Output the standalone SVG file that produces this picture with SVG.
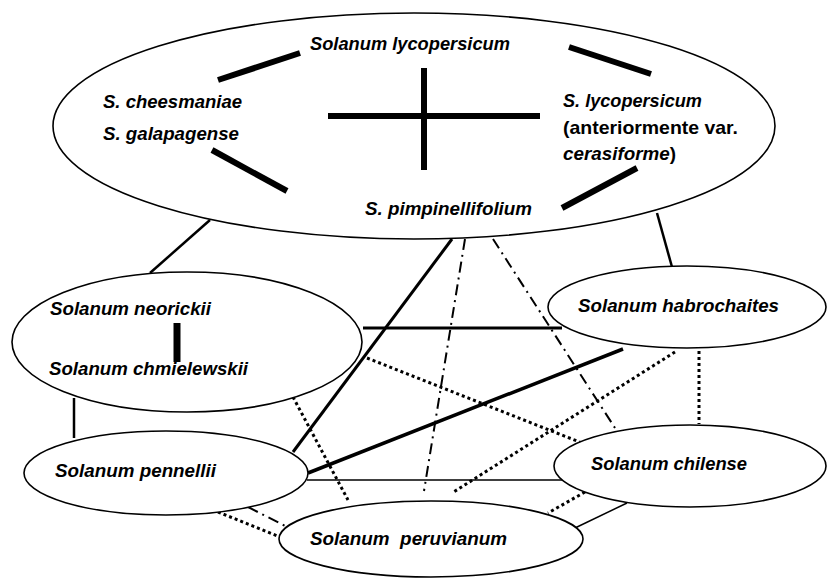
<svg xmlns="http://www.w3.org/2000/svg" width="827" height="578" viewBox="0 0 827 578">
<style>
.n{fill:#fff;stroke:#000;stroke-width:1.6}
.t{font-family:"Liberation Sans",Arial,sans-serif;font-weight:bold;font-style:italic;font-size:18.5px;fill:#000}
.up{font-style:normal}
.bar{stroke:#000;stroke-width:6;fill:none}
.s{stroke:#000;fill:none}
.dot{stroke:#000;fill:none;stroke-width:3;stroke-dasharray:3,3}
.dd{stroke:#000;fill:none;stroke-width:2;stroke-dasharray:11,5,2,5}
</style>
<rect width="827" height="578" fill="#fff"/>
<g id="connectors">
<line class="s" x1="210" y1="220" x2="150" y2="273" stroke-width="2.5"/>
<line class="s" x1="657" y1="213" x2="672" y2="267" stroke-width="2.5"/>
<line class="s" x1="74" y1="398" x2="74" y2="438" stroke-width="2.5"/>
<line class="s" x1="452" y1="239" x2="293" y2="452" stroke-width="3"/>
<line class="s" x1="363" y1="328" x2="562" y2="328" stroke-width="3"/>
<line class="s" x1="308" y1="473" x2="623" y2="349" stroke-width="3.5"/>
<line class="s" x1="307" y1="480" x2="562" y2="480" stroke-width="1.5"/>
<line class="s" x1="575" y1="528" x2="627" y2="503" stroke-width="1.5"/>
<line class="dd" x1="465" y1="239" x2="424" y2="491"/>
<line class="dd" x1="493" y1="239" x2="615" y2="428"/>
<line class="dd" x1="248" y1="507" x2="293" y2="530" stroke-width="3"/>
<line class="dot" x1="367" y1="358" x2="582" y2="443"/>
<line class="dot" x1="293" y1="397" x2="348" y2="500"/>
<line class="dot" x1="675" y1="352" x2="452" y2="493"/>
<line class="dot" x1="699" y1="351" x2="699" y2="424"/>
<line class="dot" x1="585" y1="492" x2="548" y2="513"/>
<line class="dot" x1="218" y1="512" x2="280" y2="537"/>
</g>
<g id="top">
<ellipse class="n" cx="414" cy="126" rx="361" ry="113"/>
<line class="bar" x1="218" y1="80" x2="300" y2="53"/>
<line class="bar" x1="212" y1="150" x2="287" y2="191"/>
<line class="bar" x1="569" y1="47" x2="651" y2="74"/>
<line class="bar" x1="562" y1="208" x2="637" y2="168"/>
<line class="bar" x1="328" y1="116" x2="540" y2="116"/>
<line class="bar" x1="424" y1="68" x2="424" y2="170"/>
<text class="t" x="310" y="50" textLength="200" lengthAdjust="spacingAndGlyphs">Solanum lycopersicum</text>
<text class="t" x="103" y="108" textLength="139" lengthAdjust="spacingAndGlyphs">S. cheesmaniae</text>
<text class="t" x="103" y="140" textLength="136" lengthAdjust="spacingAndGlyphs">S. galapagense</text>
<text class="t" x="563" y="107" textLength="139" lengthAdjust="spacingAndGlyphs">S. lycopersicum</text>
<text class="t up" x="563" y="134" textLength="175" lengthAdjust="spacingAndGlyphs">(anteriormente var.</text>
<text class="t" x="563" y="160" textLength="113" lengthAdjust="spacingAndGlyphs">cerasiforme<tspan class="up">)</tspan></text>
<text class="t" x="365" y="215" textLength="167" lengthAdjust="spacingAndGlyphs">S. pimpinellifolium</text>
</g>
<g id="neorickii">
<ellipse class="n" cx="187" cy="342" rx="175" ry="70"/>
<line class="s" x1="177" y1="323" x2="177" y2="362" stroke-width="7"/>
<text class="t" x="50" y="315" textLength="161" lengthAdjust="spacingAndGlyphs">Solanum neorickii</text>
<text class="t" x="49" y="375" textLength="199" lengthAdjust="spacingAndGlyphs">Solanum chmielewskii</text>
</g>
<g id="habrochaites">
<ellipse class="n" cx="687" cy="307" rx="139" ry="41"/>
<text class="t" x="578" y="312" textLength="201" lengthAdjust="spacingAndGlyphs">Solanum habrochaites</text>
</g>
<g id="pennellii">
<ellipse class="n" cx="166" cy="473" rx="142" ry="42"/>
<text class="t" x="55" y="477" textLength="161" lengthAdjust="spacingAndGlyphs">Solanum pennellii</text>
</g>
<g id="chilense">
<ellipse class="n" cx="690" cy="466" rx="136" ry="41"/>
<text class="t" x="591" y="470" textLength="156" lengthAdjust="spacingAndGlyphs">Solanum chilense</text>
</g>
<g id="peruvianum">
<ellipse class="n" cx="431" cy="539" rx="152" ry="38"/>
<text class="t" x="310" y="545" textLength="197" lengthAdjust="spacingAndGlyphs" xml:space="preserve">Solanum  peruvianum</text>
</g>
</svg>
